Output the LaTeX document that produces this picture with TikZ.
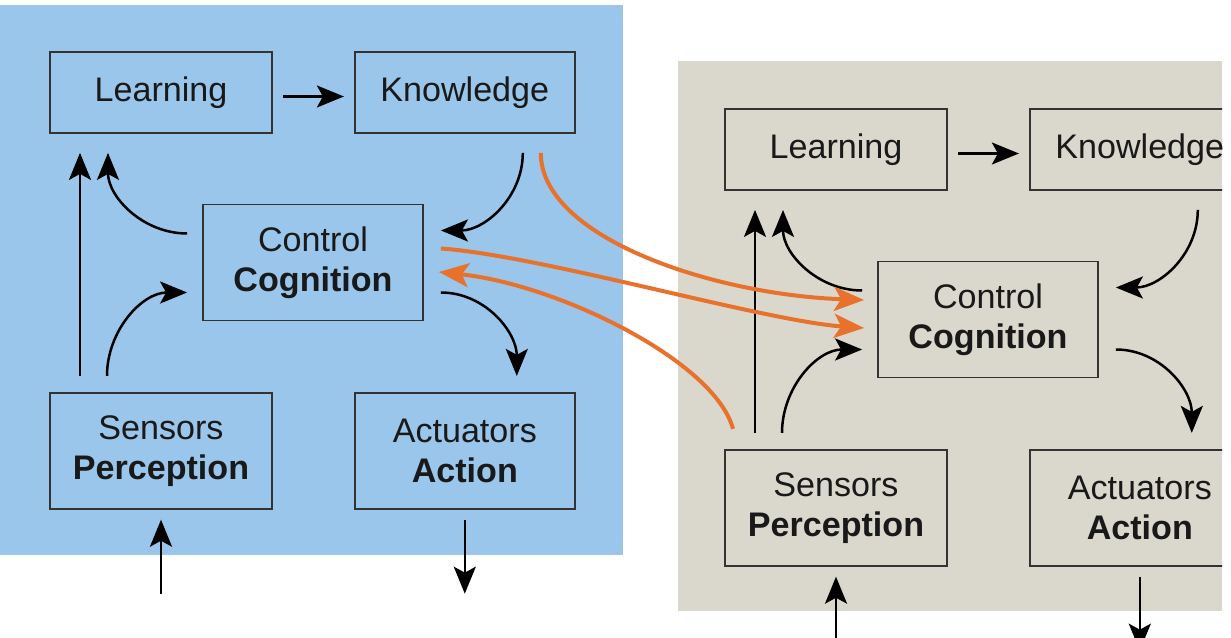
\documentclass[tikz,border=0pt]{standalone}
\usepackage{fontspec}
\setmainfont{Liberation Sans}
\usepackage{tikz}
\usetikzlibrary{arrows.meta,positioning,calc}
\definecolor{PanelBlue}{HTML}{99C6EA}
\definecolor{PanelTan}{HTML}{DAD7CC}
\definecolor{LinkOrange}{HTML}{E8722B}
\newcommand\agentfont{\fontsize{9.7}{11.4}\selectfont}

\begin{document}
\begin{tikzpicture}[
  x=0.1mm, y=0.1mm,
  every node/.style={font=\agentfont,align=center,text=black!90},
  unit/.style={draw=black!80,line width=0.18mm,inner sep=0pt,
    minimum width=22.2mm,minimum height=8.1mm},
  tall/.style={unit,minimum height=11.6mm},
  flow/.style={-{Stealth[length=2.7mm,width=2.2mm,inset=0.6mm]},line width=0.25mm},
  link/.style={-{Stealth[length=3mm,width=2.4mm,inset=0.7mm]},line width=0.4mm,
    draw=LinkOrange}
]
\useasboundingbox (0,0) rectangle (1231,637);
\begin{scope}
\clip (0,0) rectangle (1222,637);
% the two agents
\fill[PanelBlue] (0,82) rectangle (623,632);
\fill[PanelTan] (678,26) rectangle (1222,576);
\foreach \p/\dx/\dy in {a/0/0,b/675/-57}{
\begin{scope}[shift={(\dx,\dy)},name prefix=\p-]
\node[unit] (learn) at (161,544.5) {Learning};
\node[unit,minimum width=22mm,right=8.1mm of learn] (know) {Knowledge};
\node[tall,minimum width=22mm] (ctrl) at (313,374.5) {Control\\\textbf{Cognition}};
\node[tall,below=25.8mm of learn] (sens) {Sensors\\\textbf{Perception}};
\node[tall,minimum width=22mm,right=8.1mm of sens] (act) {Actuators\\\textbf{Action}};
\coordinate (sensin) at ($(sens.south)+(0,-84)$);
\coordinate (actout) at ($(act.south)+(0,-84)$);

\draw[flow] ($(learn.east)+(10,-4)$) -- ($(know.west)+(-10,-4)$);
\draw[flow] ($(sens.north)+(-81,16)$) -- ($(learn.south)+(-81,-19)$);
\draw[flow] ($(ctrl.west)+(-15,29)$) to[out=180,in=-90] ($(learn.south)+(-53,-19)$);
\draw[flow] ($(sens.north)+(-54,16)$) to[out=90,in=180] ($(ctrl.west)+(-15,-30)$);
\draw[flow] ($(know.south)+(58,-19)$) to[out=-90,in=0] ($(ctrl.east)+(17,32)$);
\draw[flow] ($(ctrl.east)+(17,-30)$) to[out=0,in=90] ($(act.north)+(52,16)$);
\draw[flow] (sensin) -- ($(sens.south)+(0,-10)$);
\draw[flow] ($(act.south)+(0,-10)$) -- (actout);
\end{scope}
}
% links between the agents
\draw[link] ($(a-know.south)+(76,-19)$) to[out=-90,in=178,out distance=8.5mm,
  in distance=15mm] ($(b-ctrl.west)+(-13,19.5)$);
\draw[link] ($(a-ctrl.east)+(17,14)$) to[out=-4,in=176,out distance=10mm,
  in distance=10mm] ($(b-ctrl.west)+(-13,-8.5)$);
\draw[link] ($(b-sens.north)+(-103,20)$) to[out=105,in=-6,out distance=7mm,
  in distance=12mm] ($(a-ctrl.east)+(15,-9.5)$);
\end{scope}
\end{tikzpicture}
\end{document}
